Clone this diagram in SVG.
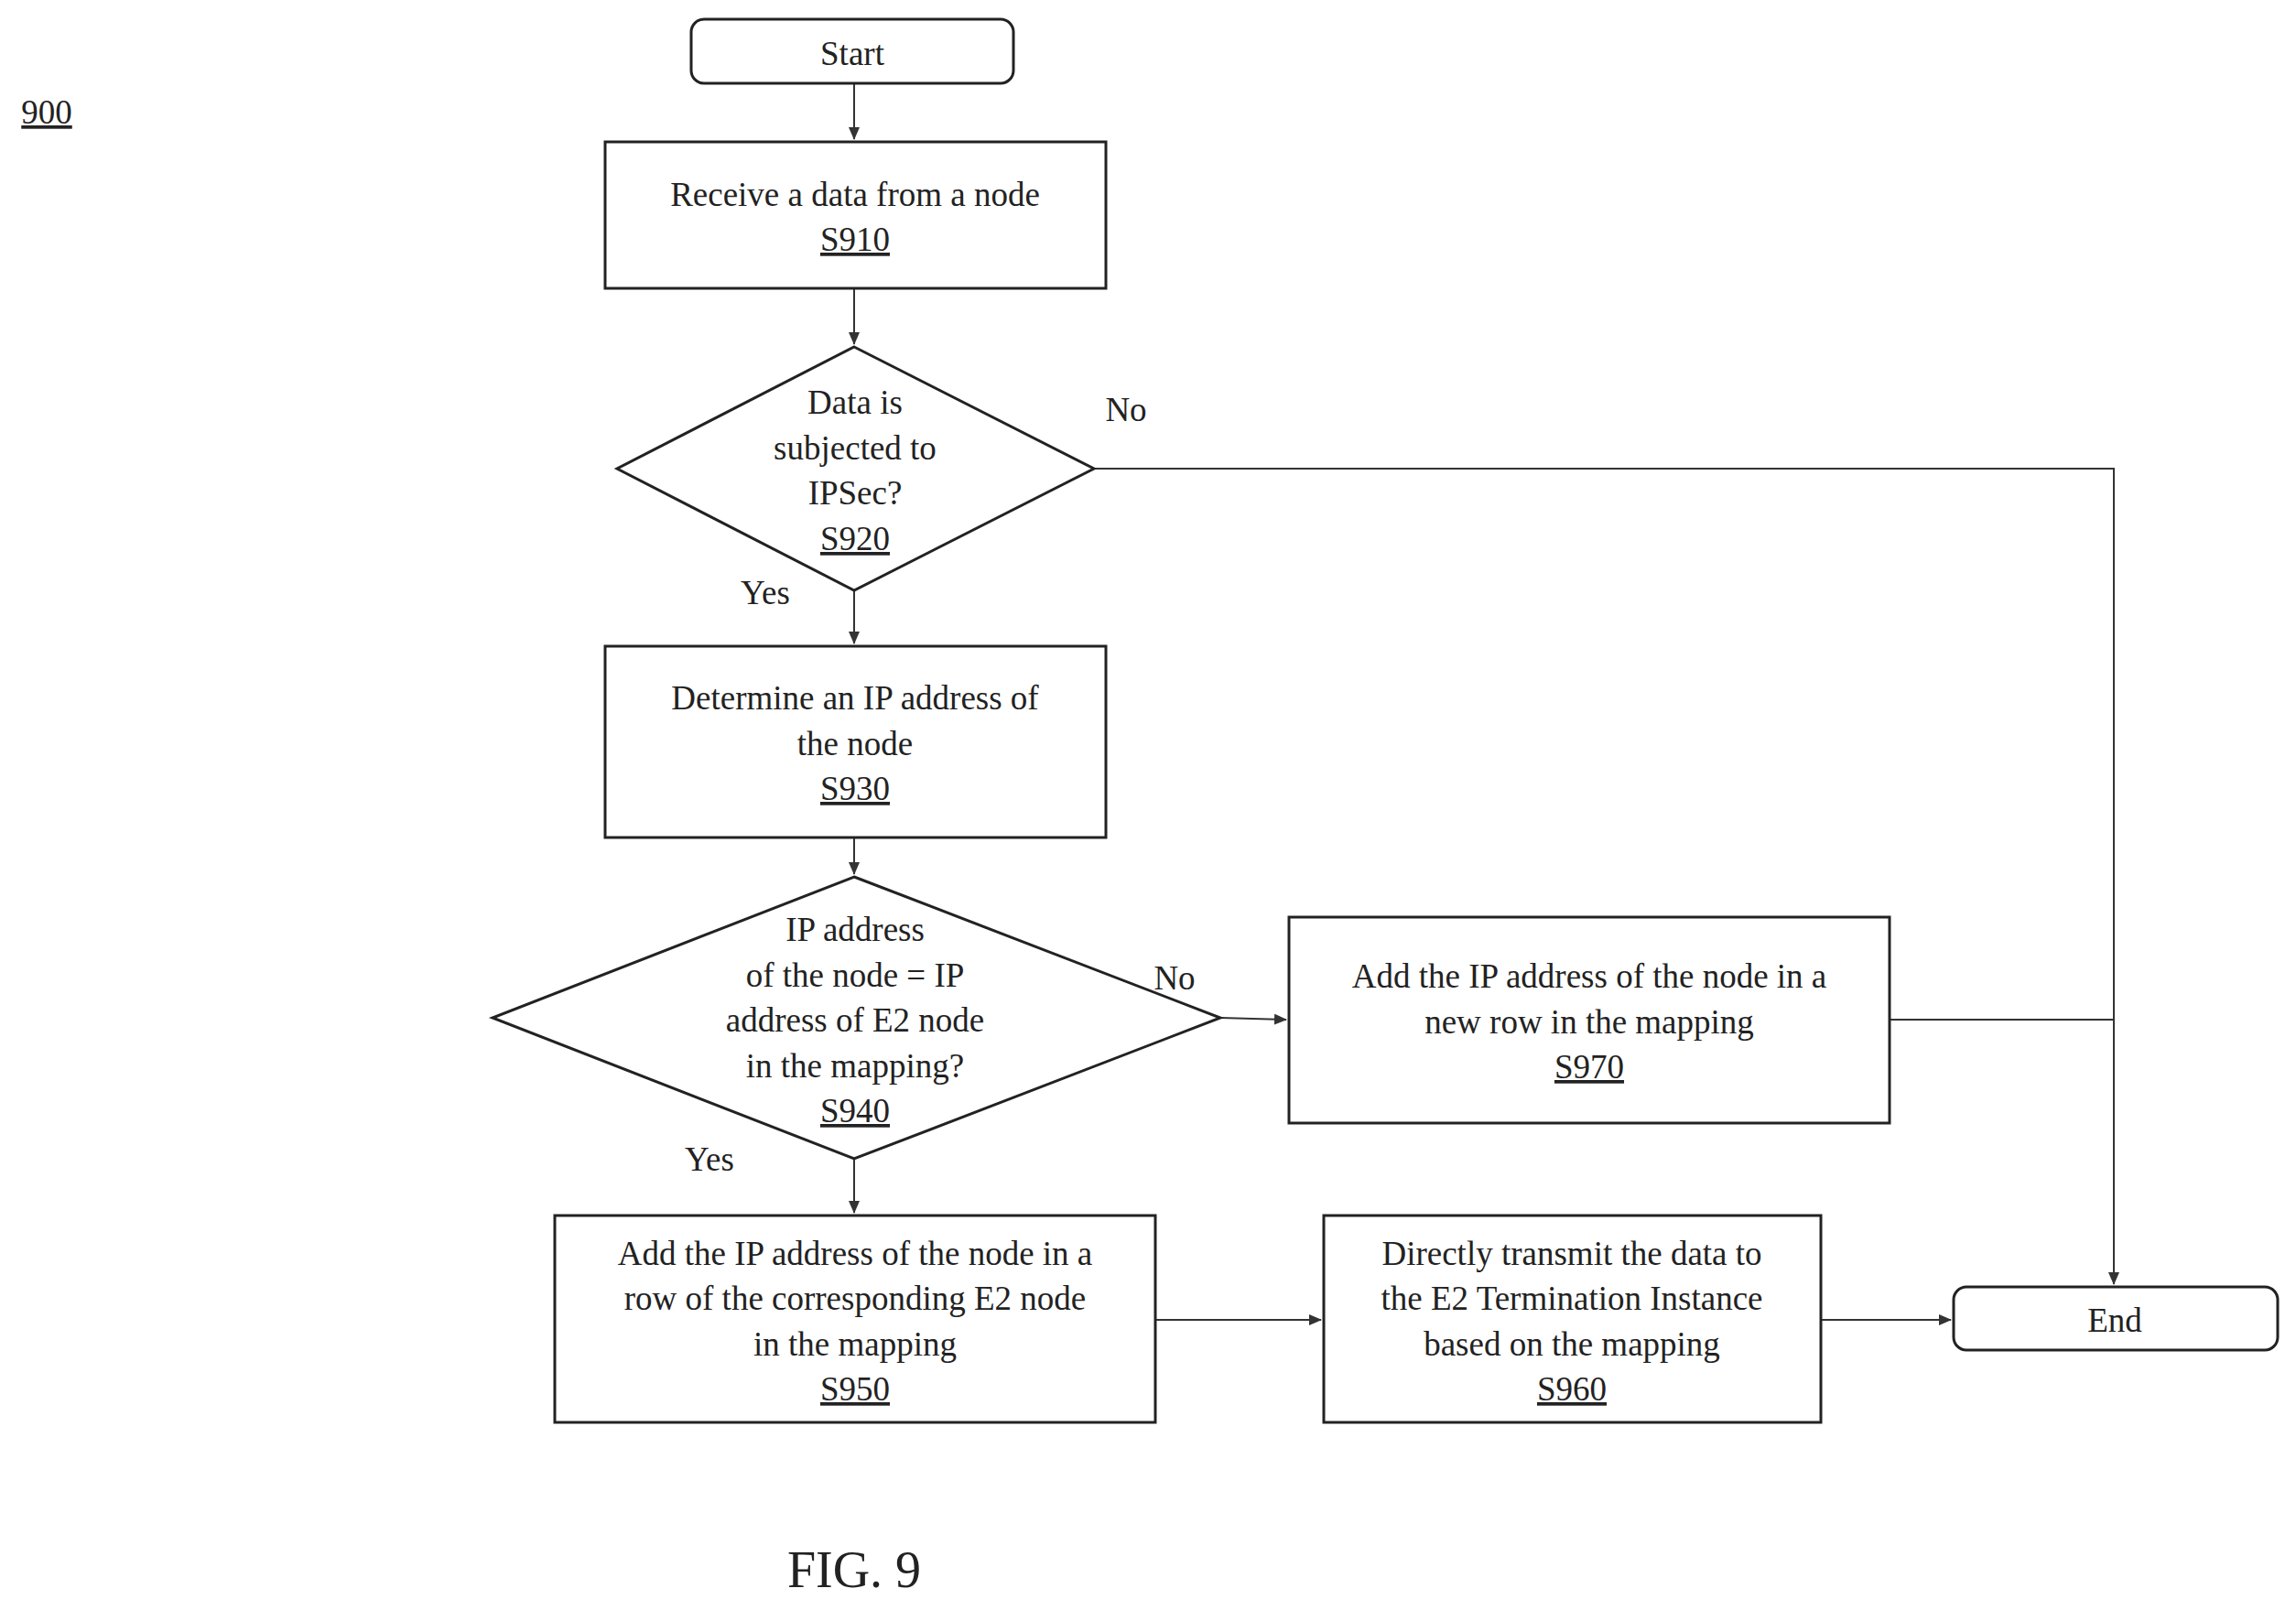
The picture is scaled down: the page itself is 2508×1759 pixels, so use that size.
<svg xmlns="http://www.w3.org/2000/svg" width="2508" height="1759" viewBox="0 0 2508 1759">
<style>
.b{fill:#fff;stroke:#222;stroke-width:3}
.c{fill:none;stroke:#333;stroke-width:2}
text{font-family:"Liberation Serif","Times New Roman",serif;font-size:37px;fill:#222;text-anchor:middle}
.u{text-decoration:underline}
</style>
<defs><marker id="a" markerWidth="14" markerHeight="12" refX="13" refY="6" orient="auto" markerUnits="userSpaceOnUse"><path d="M0,0L14,6L0,12z" fill="#333"/></marker></defs>
<rect width="2508" height="1759" fill="#fff"/>
<text x="51" y="135" class="u">900</text>
<g id="connectors">
<path class="c" d="M933,91V152" marker-end="url(#a)"/>
<path class="c" d="M933,315V376" marker-end="url(#a)"/>
<path class="c" d="M933,645V703" marker-end="url(#a)"/>
<path class="c" d="M933,915V955" marker-end="url(#a)"/>
<path class="c" d="M933,1266V1325" marker-end="url(#a)"/>
<path class="c" d="M1195,512H2309V1403" marker-end="url(#a)"/>
<path class="c" d="M1333,1112L1405,1114" marker-end="url(#a)"/>
<path class="c" d="M2064,1114H2309"/>
<path class="c" d="M1262,1442H1443" marker-end="url(#a)"/>
<path class="c" d="M1989,1442H2131" marker-end="url(#a)"/>
</g>
<g id="start"><rect class="b" x="755" y="21" width="352" height="70" rx="14"/><text x="931" y="71">Start</text></g>
<g id="s910"><rect class="b" x="661" y="155" width="547" height="160"/><text x="934" y="225">Receive a data from a node</text><text x="934" y="274" class="u">S910</text></g>
<g id="s920"><path class="b" d="M933,379L1195,512L933,645L674,512z"/><text x="934" y="452">Data is</text><text x="934" y="502">subjected to</text><text x="934" y="551">IPSec?</text><text x="934" y="601" class="u">S920</text></g>
<text x="1230" y="460">No</text><text x="836" y="660">Yes</text>
<g id="s930"><rect class="b" x="661" y="706" width="547" height="209"/><text x="934" y="775">Determine an IP address of</text><text x="934" y="825">the node</text><text x="934" y="874" class="u">S930</text></g>
<g id="s940"><path class="b" d="M933,958L1333,1112L933,1266L538,1112z"/><text x="934" y="1028">IP address</text><text x="934" y="1078">of the node = IP</text><text x="934" y="1127">address of E2 node</text><text x="934" y="1177">in the mapping?</text><text x="934" y="1226" class="u">S940</text></g>
<text x="1283" y="1081">No</text><text x="775" y="1279">Yes</text>
<g id="s970"><rect class="b" x="1408" y="1002" width="656" height="225"/><text x="1736" y="1079">Add the IP address of the node in a</text><text x="1736" y="1129">new row in the mapping</text><text x="1736" y="1178" class="u">S970</text></g>
<g id="s950"><rect class="b" x="606" y="1328" width="656" height="226"/><text x="934" y="1382">Add the IP address of the node in a</text><text x="934" y="1431">row of  the corresponding E2 node</text><text x="934" y="1481">in the mapping</text><text x="934" y="1530" class="u">S950</text></g>
<g id="s960"><rect class="b" x="1446" y="1328" width="543" height="226"/><text x="1717" y="1382">Directly transmit the data to</text><text x="1717" y="1431">the E2 Termination Instance</text><text x="1717" y="1481">based on the mapping</text><text x="1717" y="1530" class="u">S960</text></g>
<g id="end"><rect class="b" x="2134" y="1406" width="354" height="69" rx="14"/><text x="2310" y="1455">End</text></g>
<text x="933" y="1734" style="font-size:56px">FIG. 9</text>
</svg>
